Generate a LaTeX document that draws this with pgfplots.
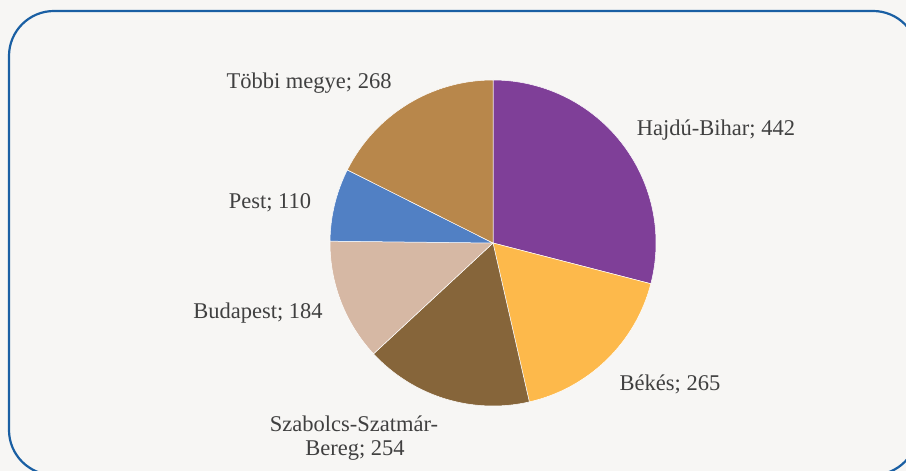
\documentclass[border=0pt]{standalone}
\usepackage{pgfplots}
\usepackage{pgfplotstable}
\pgfplotsset{compat=1.18}
\usepackage{fontspec}
\setmainfont{Liberation Serif}

\definecolor{bgc}{HTML}{F7F6F4}
\definecolor{framec}{HTML}{1A5FA3}
\definecolor{txtc}{HTML}{404040}
\definecolor{cHB}{HTML}{7F3F98}
\definecolor{cBek}{HTML}{FDB94B}
\definecolor{cSzab}{HTML}{86653A}
\definecolor{cBud}{HTML}{D6B8A4}
\definecolor{cPest}{HTML}{5180C4}
\definecolor{cTob}{HTML}{B8874B}

% county, value, slice colour (clockwise from 12 o'clock)
\pgfplotstableread{
name value color
HajduBihar 442 cHB
Bekes 265 cBek
Szabolcs 254 cSzab
Budapest 184 cBud
Pest 110 cPest
Tobbi 268 cTob
}\piedata

\tikzset{lbl/.style={anchor=base, inner sep=0pt, text=txtc,
  font=\fontsize{22.5bp}{26bp}\selectfont}}

\begin{document}
\begin{tikzpicture}
\fill[bgc] (0,0) rectangle (906bp,471bp);
\draw[framec, line width=2.2bp, rounded corners=45bp] (9bp,-4bp) rectangle (918bp,460bp);

% total of all slices
\pgfplotstablegetrowsof{\piedata}
\pgfmathtruncatemacro\lastrow{\pgfplotsretval-1}
\def\total{0}
\pgfplotsforeachungrouped \i in {0,...,\lastrow}{%
  \pgfplotstablegetelem{\i}{value}\of\piedata
  \pgfmathsetmacro\total{\total+\pgfplotsretval}%
}

\begin{axis}[
  at={(0,0)}, anchor=south west,
  scale only axis, width=906bp, height=471bp,
  xmin=0, xmax=906, ymin=0, ymax=471,
  y dir=reverse,
  hide axis, clip=false,
]
  \def\cum{0}
  \pgfplotsforeachungrouped \i in {0,...,\lastrow}{%
    \pgfplotstablegetelem{\i}{value}\of\piedata \let\v\pgfplotsretval
    \pgfplotstablegetelem{\i}{color}\of\piedata \let\c\pgfplotsretval
    \pgfmathsetmacro\a{90-\cum/\total*360}%
    \pgfmathsetmacro\b{90-(\cum+\v)/\total*360}%
    \edef\temp{\noexpand\fill[\c, draw=white, line width=0.5bp]
      (axis cs:493,243) -- ++(\a:163bp) arc[start angle=\a, end angle=\b, radius=163bp] -- cycle;}%
    \temp
    \pgfmathsetmacro\cum{\cum+\v}%
  }

  % data labels
  \node[lbl] at (axis cs:716,135) {Hajdú-Bihar; 442};
  \node[lbl] at (axis cs:670,390) {Békés; 265};
  \node[lbl] at (axis cs:354,431) {Szabolcs-Szatmár-};
  \node[lbl] at (axis cs:355,455.5) {Bereg; 254};
  \node[lbl] at (axis cs:258,318) {Budapest; 184};
  \node[lbl] at (axis cs:270,208) {Pest; 110};
  \node[lbl] at (axis cs:309,89) {Többi megye; 268};
\end{axis}
\pgfresetboundingbox
\useasboundingbox (0,0) rectangle (906bp,471bp);
\end{tikzpicture}
\end{document}
